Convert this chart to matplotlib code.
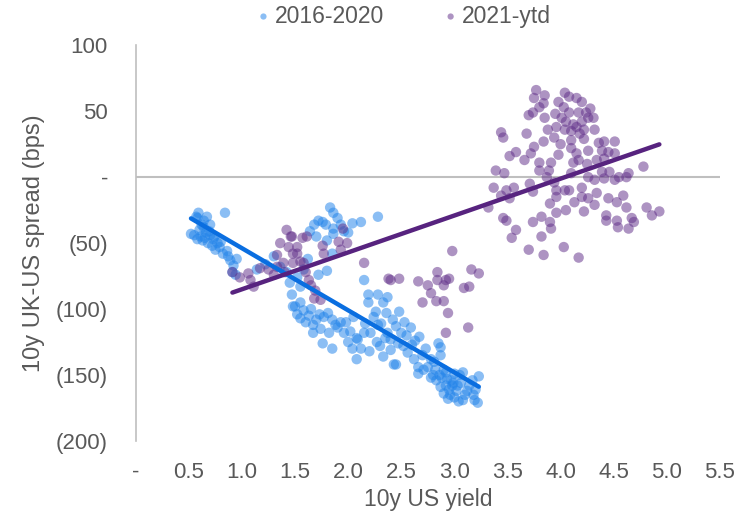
import matplotlib
matplotlib.use('Agg')
import matplotlib.pyplot as plt
import numpy as np

plt.rcParams['font.family'] = ['Liberation Sans', 'DejaVu Sans']

BLUE = '#2183ea'
BLUE_LINE = '#0a6ee0'
PURPLE = '#62318a'
PURPLE_LINE = '#57237f'
GREY_TXT = '#595959'
GREY_AX = '#bfbfbf'

# 2016-2020: (10y US yield, 10y UK-US spread bps)
blue_pts = [
    (0.52, -43), (0.55, -44), (0.57, -30), (0.59, -27), (0.60, -40), (0.62, -36), (0.63, -48),
    (0.65, -46), (0.66, -42), (0.67, -30), (0.68, -50), (0.70, -44), (0.72, -52), (0.73, -47),
    (0.75, -55), (0.77, -50), (0.79, -53), (0.82, -58), (0.84, -27), (0.86, -56), (0.87, -60),
    (0.89, -63), (0.92, -67), (0.95, -62), (0.91, -72), (0.94, -74), (0.61, -45), (0.64, -38),
    (0.69, -41), (0.58, -47), (0.74, -45), (0.80, -49), (0.58, -31), (0.64, -33), (0.70, -36),
    (1.14, -70), (1.22, -66), (1.30, -60), (1.36, -68), (1.42, -72), (1.47, -89), (1.48, -98),
    (1.45, -80), (1.52, -76), (1.55, -83),
    (1.64, -41), (1.68, -36), (1.72, -33), (1.76, -34), (1.79, -36), (1.83, -23), (1.86, -27),
    (1.86, -39), (1.86, -43), (1.93, -36), (1.96, -41), (2.04, -35), (2.12, -34), (2.28, -30),
    (1.70, -45), (1.80, -48), (1.90, -31), (2.00, -42), (1.85, -58), (1.80, -71), (1.72, -74),
    (2.15, -78), (2.19, -89), (2.28, -89), (2.37, -91), (1.62, -62), (1.58, -70),
    (1.50, -98), (1.55, -107), (1.55, -95), (1.58, -101), (1.52, -104), (1.60, -110), (1.63, -105),
    (1.67, -112), (1.67, -118), (1.70, -108), (1.73, -104), (1.76, -126), (1.77, -106), (1.81, -103),
    (1.82, -118), (1.85, -130), (1.85, -108), (1.88, -112), (1.90, -114), (1.93, -110), (1.96, -118),
    (2.02, -117), (2.05, -106), (2.08, -122), (2.09, -123), (2.04, -130), (2.08, -138), (2.12, -130),
    (2.15, -118), (2.16, -111), (2.19, -95), (2.21, -118), (2.24, -106), (2.26, -102), (2.28, -112),
    (2.31, -111), (2.33, -95), (2.33, -136), (2.35, -122), (2.37, -118), (2.40, -123), (2.40, -131),
    (2.43, -142), (2.30, -128), (2.27, -125), (2.20, -132), (2.00, -125), (1.98, -110), (1.74, -115),
    (1.65, -100), (2.36, -103), (2.42, -108),
    (2.45, -113), (2.47, -126), (2.45, -142), (2.48, -102), (2.50, -118), (2.53, -110), (2.56, -133),
    (2.55, -120), (2.59, -114), (2.60, -127), (2.63, -124), (2.66, -144), (2.66, -149), (2.67, -121),
    (2.70, -135), (2.71, -146), (2.73, -130), (2.75, -144), (2.78, -138), (2.81, -140), (2.83, -154),
    (2.85, -126), (2.87, -129), (2.87, -135), (2.87, -159), (2.90, -146), (2.90, -164), (2.92, -148),
    (2.95, -161), (2.97, -154), (3.00, -149), (3.00, -167), (3.03, -158), (3.06, -156), (3.08, -148),
    (3.08, -169), (3.12, -162), (3.17, -154), (3.19, -169), (3.20, -161), (3.22, -171), (3.23, -151),
    (2.93, -153), (2.80, -150), (2.62, -138), (2.52, -128),
    (2.88, -152), (2.92, -158), (2.96, -165), (2.98, -158), (3.02, -162), (3.05, -150), (3.10, -165),
    (3.14, -158), (3.18, -165), (2.86, -150), (2.94, -168), (3.04, -170), (2.82, -146), (2.78, -152),
    (2.99, -156),
]

# 2021-ytd
purple_pts = [
    (0.91, -72), (0.98, -76), (1.06, -73), (1.08, -78), (1.11, -83), (1.17, -69), (1.25, -70),
    (1.33, -59), (1.36, -50), (1.46, -45), (1.44, -53), (1.39, -65), (1.48, -65), (1.33, -68),
    (1.52, -58), (1.47, -45), (1.57, -46), (1.61, -45), (1.52, -53), (1.48, -58), (1.55, -64),
    (1.58, -65), (1.63, -78), (1.69, -86), (1.74, -93), (1.68, -92), (1.76, -52), (1.77, -58),
    (1.91, -49), (1.93, -55), (1.99, -50), (1.95, -39), (2.15, -65), (2.38, -77), (2.48, -77),
    (1.30, -74), (1.40, -72), (1.60, -72), (1.65, -82), (1.42, -40),
    (2.40, -78), (2.66, -79), (2.75, -82), (2.78, -88), (2.84, -72), (2.84, -78), (2.92, -78),
    (2.90, -82), (2.95, -77), (2.70, -95), (2.83, -94), (2.90, -94), (2.94, -103), (2.92, -118),
    (2.98, -56), (3.16, -70), (3.23, -73), (3.09, -84), (3.14, -83), (3.13, -114),
    (3.77, 66), (3.85, 62), (3.75, 60), (3.84, 56), (3.80, 53), (3.74, 49), (3.70, 47), (3.85, 45),
    (4.04, 64), (4.08, 61), (4.15, 60), (4.20, 57), (4.03, 53), (4.08, 49), (4.17, 49), (4.24, 49),
    (4.01, 45), (4.26, 45), (3.96, 38), (3.88, 36), (4.04, 36), (4.15, 38), (4.22, 36), (3.44, 34),
    (3.46, 30), (3.68, 33), (3.94, 30), (4.10, 28), (4.22, 29), (3.84, 27), (3.75, 23), (3.58, 19),
    (3.52, 16), (3.72, 18), (3.66, 13), (3.98, 17), (3.80, 11), (3.91, 11), (4.12, 11), (4.17, 13),
    (4.26, 20), (3.39, 5), (3.47, 3), (3.80, 5), (3.89, 5), (4.10, 3), (3.37, -8), (3.49, -10),
    (3.56, -8), (3.71, -5), (3.74, -11), (3.96, -10), (4.04, -10), (4.08, -10), (4.20, -8),
    (3.94, -4), (3.87, 0), (4.26, 0),
    (4.31, 45), (4.32, 36), (4.36, 26), (4.41, 27), (4.51, 27), (4.39, 20), (4.45, 19), (4.51, 18),
    (4.34, 13), (4.41, 14), (4.78, 8), (4.39, 4), (4.46, 4), (4.55, 0), (4.64, 3), (4.62, 0),
    (4.41, -1), (4.51, -2), (4.32, -2), (4.34, -12), (4.45, -16), (4.59, -14),
    (4.53, -19), (4.62, -23), (4.81, -23), (4.86, -29), (4.93, -26), (4.43, -29), (4.43, -33),
    (4.53, -33), (4.67, -31), (4.69, -34), (4.64, -39), (4.54, -38),
    (4.20, -15), (4.26, -16), (4.22, -26), (4.32, -21), (4.05, -25), (3.96, -27), (3.90, -34),
    (3.82, -30), (3.74, -34), (3.91, -39), (3.58, -40), (3.54, -46), (3.82, -45), (3.70, -55),
    (3.84, -59), (4.03, -53), (4.17, -61), (3.46, -31), (3.49, -33), (3.44, -14), (3.52, -16),
    (3.32, -23), (3.90, -20), (3.96, -15), (4.13, -19),
    (4.05, 42), (4.12, 40), (4.18, 33), (4.10, 22), (4.15, 18), (4.25, 10), (4.00, 25), (3.95, 48),
    (4.28, 52), (4.20, 42), (4.10, 35), (3.98, 57),
]

x_ticks = [0, 0.5, 1.0, 1.5, 2.0, 2.5, 3.0, 3.5, 4.0, 4.5, 5.0, 5.5]
x_labels = ['-', '0.5', '1.0', '1.5', '2.0', '2.5', '3.0', '3.5', '4.0', '4.5', '5.0', '5.5']
y_ticks = [100, 50, 0, -50, -100, -150, -200]
y_labels = ['100', '50', '-', '(50)', '(100)', '(150)', '(200)']

blue = np.array(blue_pts)
purple = np.array(purple_pts)

fig = plt.figure(figsize=(7.46, 5.2), dpi=100)
ax = fig.add_axes([0.182, 0.152, 0.783, 0.761])

ax.axhline(0, color=GREY_AX, lw=1.5, zorder=1)

ax.scatter(blue[:, 0], blue[:, 1], s=56, color=BLUE, alpha=0.52, edgecolors='none', zorder=2,
           label='2016-2020')
ax.scatter(purple[:, 0], purple[:, 1], s=56, color=PURPLE, alpha=0.52, edgecolors='none', zorder=2,
           label='2021-ytd')

# linear trend lines
for pts, col in [(blue, BLUE_LINE), (purple, PURPLE_LINE)]:
    k, b = np.polyfit(pts[:, 0], pts[:, 1], 1)
    xs = np.array([pts[:, 0].min(), pts[:, 0].max()])
    ax.plot(xs, k * xs + b, color=col, lw=3.2, solid_capstyle='round', zorder=3)

ax.set_xlim(0, 5.5)
ax.set_ylim(-200, 100)
ax.set_xticks(x_ticks)
ax.set_xticklabels(x_labels)
ax.set_yticks(y_ticks)
ax.set_yticklabels(y_labels)
ax.tick_params(length=0, labelsize=16, colors=GREY_TXT)
ax.tick_params(axis='x', pad=15)
ax.tick_params(axis='y', pad=20)

for s in ['top', 'right', 'bottom']:
    ax.spines[s].set_visible(False)
ax.spines['left'].set_color(GREY_AX)
ax.spines['left'].set_linewidth(1.2)

ax.set_xlabel('10y US yield', fontsize=16.5, color=GREY_TXT, labelpad=4)
ax.set_ylabel('10y UK-US spread (bps)', fontsize=17, color=GREY_TXT, labelpad=8)

leg = ax.legend(loc='lower center', bbox_to_anchor=(0.455, 1.01), ncol=2, frameon=False,
                fontsize=16.5, markerscale=0.6, handletextpad=0.0, columnspacing=2.4,
                handlelength=1.0, borderaxespad=0.2)
for t in leg.get_texts():
    t.set_color(GREY_TXT)

fig.savefig('out.png', dpi=100)
